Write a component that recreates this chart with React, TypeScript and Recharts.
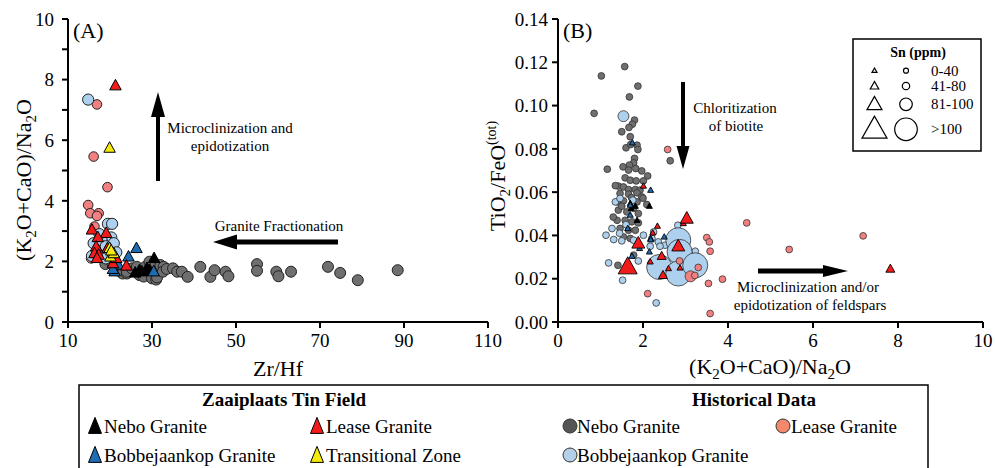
import { ScatterChart, Scatter, XAxis, YAxis } from 'recharts';

// [x, y] for panel A, [x, y, snClass] for panel B (0: 0-40, 1: 41-80, 2: 81-100, 3: >100 ppm)
type Pt = number[];

// ---- Panel A: Zr/Hf vs (K2O+CaO)/Na2O ----
const zrHfTicks = [10, 30, 50, 70, 90, 110];
const ratioTicksA = [0, 1, 2, 3, 4, 5, 6, 7, 8, 9, 10];

const histNeboA: Pt[] = [
  [18.9, 1.91], [20.5, 1.95], [22, 1.7], [23, 1.6], [24, 1.6], [24, 1.66], [25.2, 1.77], [26.4, 1.82],
  [27, 1.55], [28, 1.5], [28.4, 1.82], [29.4, 1.99], [30, 1.44], [30.4, 1.8], [31, 1.4], [31.2, 1.47],
  [32, 1.88], [32.8, 1.82], [32.6, 1.66], [33.5, 1.75], [35, 1.77], [36, 1.66], [37.1, 1.66], [38.5, 1.49],
  [41.5, 1.82], [43.9, 1.49], [44.9, 1.71], [47.5, 1.66], [48.2, 1.51], [55, 1.91], [55, 1.69], [59.6, 1.66],
  [60.1, 1.51], [63.1, 1.66], [71.9, 1.82], [74.8, 1.62], [79, 1.38], [88.5, 1.71],
];
const histLeaseA: Pt[] = [
  [16.9, 7.18], [16.1, 5.46], [19.4, 4.45], [14.8, 3.86], [15.3, 3.59], [17.3, 3.59], [16.9, 3.5],
  [16.3, 3.15], [15.5, 2.1], [16, 2.6], [17.5, 2.3],
];
const histBobA: Pt[] = [
  [14.8, 7.34], [19.5, 3.24], [20.5, 3.24], [20.3, 2.79], [20.9, 2.6], [16.1, 2.6], [15.7, 2.18],
  [18, 2.7], [19, 2.5], [21.5, 2.3], [17.5, 2.9], [19, 2.1],
];
const zaaNeboA: Pt[] = [[30.5, 2.1], [26, 1.62], [27.6, 1.66], [28.8, 1.77], [27, 1.7], [29.5, 1.7]];
const zaaLeaseA: Pt[] = [
  [21.3, 7.8], [15.7, 3.04], [19.1, 2.93], [17.1, 2.79], [16.7, 2.48], [16.3, 2.26], [17.3, 2.21],
  [19.4, 2.43], [20.7, 1.93], [23.9, 1.85], [16.9, 2.1], [21.5, 2.1],
];
const zaaBobA: Pt[] = [[26.3, 2.43], [24.4, 2.15], [21.1, 1.66], [30.4, 1.66], [22, 1.88], [20.7, 1.74]];
const transA: Pt[] = [[19.9, 5.74], [19.9, 2.43], [20.1, 2.15], [20.9, 2.26], [20.3, 2.35]];

// ---- Panel B: (K2O+CaO)/Na2O vs TiO2/FeO(tot) ----
const ratioTicksB = [0, 2, 4, 6, 8, 10];
const tiFeTicks = [0, 0.02, 0.04, 0.06, 0.08, 0.1, 0.12, 0.14];

const histNeboB: Pt[] = [
  [1.57, 0.118, 1], [1.02, 0.1137, 1], [1.88, 0.109, 1], [1.68, 0.104, 1], [0.85, 0.0964, 1], [1.8, 0.0933, 1],
  [1.75, 0.0914, 1], [1.67, 0.0899, 1], [1.5, 0.0879, 1], [1.7, 0.0856, 1], [1.6, 0.0805, 1], [1.71, 0.082, 1],
  [1.86, 0.0817, 1], [1.88, 0.0797, 1], [1.8, 0.0756, 1], [1.78, 0.0735, 1], [1.68, 0.0725, 1], [1.16, 0.0706, 1],
  [2.64, 0.0745, 1], [1.53, 0.0717, 1], [1.66, 0.0702, 1], [1.83, 0.0709, 1], [1.97, 0.0698, 1], [2.11, 0.0675, 1],
  [1.58, 0.0666, 1], [1.7, 0.0655, 1], [1.84, 0.0652, 1], [2.01, 0.0652, 1], [1.42, 0.0628, 1], [1.54, 0.0624, 1],
  [1.66, 0.0612, 1], [1.82, 0.0612, 1], [1.93, 0.0609, 1], [2.09, 0.0543, 1], [1.46, 0.0594, 1], [1.66, 0.0591, 1],
  [1.86, 0.0597, 1], [1.97, 0.0578, 1], [1.39, 0.0555, 1], [1.54, 0.056, 1], [1.86, 0.0555, 1], [1.42, 0.0517, 1],
  [1.62, 0.0509, 1], [1.78, 0.0525, 1], [1.89, 0.0501, 1], [1.39, 0.047, 1], [1.58, 0.047, 1], [1.74, 0.0463, 1],
  [1.89, 0.0458, 1], [1.46, 0.0432, 1], [1.66, 0.0424, 1], [1.82, 0.0424, 1], [1.54, 0.0393, 1], [1.7, 0.0386, 1],
  [1.41, 0.0262, 1], [1.3, 0.0485, 1], [1.5, 0.0535, 1], [2.0, 0.0572, 1], [1.35, 0.063, 1], [1.73, 0.0575, 1],
  [1.78, 0.0309, 1],
];
const histBobB: Pt[] = [
  [1.35, 0.0555, 1], [1.27, 0.0432, 1], [1.13, 0.0401, 1], [1.31, 0.0381, 1], [1.5, 0.0375, 1], [1.78, 0.0378, 1],
  [2.01, 0.0401, 1], [2.21, 0.0386, 1], [2.36, 0.037, 1], [2.52, 0.0355, 1], [2.64, 0.0363, 1], [1.19, 0.0273, 1],
  [1.89, 0.0282, 1], [1.52, 0.0193, 1], [2.31, 0.0088, 1], [2.82, 0.0447, 1], [3.23, 0.0327, 1], [2.36, 0.027, 1],
  [2.25, 0.0416, 1], [2.4, 0.035, 1], [2.17, 0.035, 1], [1.46, 0.0571, 1], [1.76, 0.0563, 1], [1.6, 0.045, 1],
  [1.45, 0.041, 1], [1.54, 0.0951, 2],
  [2.83, 0.0378, 3], [2.86, 0.0324, 3], [2.38, 0.0254, 3], [2.83, 0.0224, 3], [3.23, 0.0262, 3],
];
const histLeaseB: Pt[] = [
  [2.58, 0.0797, 1], [4.44, 0.0458, 1], [3.5, 0.039, 1], [3.56, 0.037, 1], [3.58, 0.0327, 1], [5.44, 0.0335, 1],
  [7.18, 0.0398, 1], [3.3, 0.0252, 1], [3.87, 0.0198, 1], [3.54, 0.0178, 1], [2.11, 0.0131, 1], [3.58, 0.0039, 1],
  [3.12, 0.0211, 2], [3.22, 0.0215, 1], [2.86, 0.0282, 1],
];
const zaaNeboB: Pt[] = [[1.7, 0.0548, 0], [1.82, 0.0535, 0], [2.15, 0.0535, 0], [1.86, 0.047, 0], [1.72, 0.0525, 0]];
const zaaBobB: Pt[] = [
  [1.75, 0.0828, 0], [2.18, 0.0609, 0], [1.7, 0.054, 0], [1.7, 0.0494, 0], [1.64, 0.0432, 0], [2.18, 0.0386, 0],
  [2.18, 0.038, 0], [2.5, 0.0393, 0], [2.15, 0.0324, 0], [1.74, 0.0304, 0], [1.92, 0.034, 0],
];
const zaaLeaseB: Pt[] = [
  [2.01, 0.0628, 0], [2.34, 0.0443, 0], [2.23, 0.0412, 0], [2.17, 0.0278, 0], [2.6, 0.0247, 0], [2.87, 0.025, 0],
  [2.95, 0.0455, 0], [2.44, 0.0304, 1], [2.47, 0.0216, 1], [7.82, 0.0245, 1],
  [1.89, 0.0363, 2], [2.83, 0.035, 2], [3.03, 0.0478, 2], [1.64, 0.0254, 3],
];

const snLabels = ['0-40', '41-80', '81-100', '>100'];

const COL = {
  black: '#000000',
  red: '#f21b1b',
  blue: '#1e6cb4',
  yellow: '#f5ea0c',
  gray: '#6f6f6f',
  salmon: '#f28080',
  lightBlue: '#acd0ee',
};
const FONT = '"Liberation Serif", "Times New Roman", serif';

const TRI_W = [6, 9, 13, 19];
const DOT_R = [2.6, 3.4, 5.5, 12.5];

const pts = (arr: Pt[]) => arr.map(([x, y, sn = 0]) => ({ x, y, sn }));

const Tri = ({ cx, cy, w, h, fill, sw = 1 }: any) => (
  <polygon
    points={`${cx},${cy - h * 0.6} ${cx - w / 2},${cy + h * 0.4} ${cx + w / 2},${cy + h * 0.4}`}
    fill={fill}
    stroke="#000"
    strokeWidth={sw}
  />
);

const triA = (fill: string) => (p: any) => <Tri cx={p.cx} cy={p.cy} w={11.5} h={10.5} fill={fill} />;
const dotA = (fill: string, r: number) => (p: any) => (
  <circle cx={p.cx} cy={p.cy} r={r} fill={fill} stroke="#222" strokeWidth={1} />
);
const snOf = (p: any) => (p.payload && p.payload.sn != null ? p.payload.sn : p.sn || 0);
const triB = (fill: string) => (p: any) => {
  const w = TRI_W[snOf(p)];
  return <Tri cx={p.cx} cy={p.cy} w={w} h={w * 0.9} fill={fill} sw={0.9} />;
};
const dotB = (fill: string) => (p: any) => (
  <circle cx={p.cx} cy={p.cy} r={DOT_R[snOf(p)]} fill={fill} stroke="#333" strokeWidth={0.8} />
);

const axisProps = {
  axisLine: { stroke: '#000', strokeWidth: 2 },
  tickLine: { stroke: '#000', strokeWidth: 2 },
  tickSize: 6,
  tick: { fill: '#000', fontSize: 19, fontFamily: FONT },
  interval: 0 as const,
};

// (K2O+CaO)/Na2O written with subscripts
const RatioTitle = () => (
  <>
    <tspan>(K</tspan>
    <tspan dy={5} fontSize={15}>2</tspan>
    <tspan dy={-5}>O+CaO)/Na</tspan>
    <tspan dy={5} fontSize={15}>2</tspan>
    <tspan dy={-5}>O</tspan>
  </>
);

const Arrow = ({ x1, y1, x2, y2, head = 24, half = 7, w = 4.5 }: any) => {
  const dx = x2 - x1, dy = y2 - y1;
  const len = Math.hypot(dx, dy);
  const ux = dx / len, uy = dy / len;
  const bx = x2 - ux * head, by = y2 - uy * head;
  return (
    <g>
      <line x1={x1} y1={y1} x2={bx} y2={by} stroke="#000" strokeWidth={w} />
      <polygon
        points={`${x2},${y2} ${bx - uy * half},${by + ux * half} ${bx + uy * half},${by - ux * half}`}
        fill="#000"
      />
    </g>
  );
};

const App = () => {
  return (
    <div style={{ position: 'fixed', left: 0, top: 0, width: 995, height: 468, background: '#fff', overflow: 'hidden' }}>
      <div style={{ position: 'absolute', left: 0, top: 0 }}>
        <ScatterChart width={520} height={380} margin={{ top: 19, right: 32, bottom: 28, left: 0 }}>
          <XAxis type="number" dataKey="x" domain={[10, 110]} ticks={zrHfTicks} tickMargin={6} {...axisProps} />
          <YAxis
            type="number"
            dataKey="y"
            domain={[0, 10]}
            ticks={ratioTicksA}
            width={68}
            tickMargin={8}
            tickFormatter={(v: number) => (v % 2 === 0 ? String(v) : '')}
            {...axisProps}
          />
          <Scatter data={pts(histNeboA)} shape={dotA(COL.gray, 5.5)} isAnimationActive={false} />
          <Scatter data={pts(histLeaseA)} shape={dotA(COL.salmon, 4.8)} isAnimationActive={false} />
          <Scatter data={pts(histBobA)} shape={dotA(COL.lightBlue, 5.6)} isAnimationActive={false} />
          <Scatter data={pts(zaaNeboA)} shape={triA(COL.black)} isAnimationActive={false} />
          <Scatter data={pts(zaaBobA)} shape={triA(COL.blue)} isAnimationActive={false} />
          <Scatter data={pts(zaaLeaseA)} shape={triA(COL.red)} isAnimationActive={false} />
          <Scatter data={pts(transA)} shape={triA(COL.yellow)} isAnimationActive={false} />
        </ScatterChart>
      </div>
      <div style={{ position: 'absolute', left: 490, top: 0 }}>
        <ScatterChart width={505} height={380} margin={{ top: 19, right: 12, bottom: 28, left: 0 }}>
          <XAxis type="number" dataKey="x" domain={[0, 10]} ticks={ratioTicksB} tickMargin={6} {...axisProps} />
          <YAxis
            type="number"
            dataKey="y"
            domain={[0, 0.14]}
            ticks={tiFeTicks}
            width={68}
            tickMargin={4}
            tickFormatter={(v: number) => v.toFixed(2)}
            {...axisProps}
          />
          <Scatter data={pts(histNeboB)} shape={dotB(COL.gray)} isAnimationActive={false} />
          <Scatter data={pts(histBobB)} shape={dotB(COL.lightBlue)} isAnimationActive={false} />
          <Scatter data={pts(histLeaseB)} shape={dotB(COL.salmon)} isAnimationActive={false} />
          <Scatter data={pts(zaaNeboB)} shape={triB(COL.black)} isAnimationActive={false} />
          <Scatter data={pts(zaaBobB)} shape={triB(COL.blue)} isAnimationActive={false} />
          <Scatter data={pts(zaaLeaseB)} shape={triB(COL.red)} isAnimationActive={false} />
        </ScatterChart>
      </div>

      <svg
        width={995}
        height={468}
        style={{ position: 'absolute', left: 0, top: 0, pointerEvents: 'none' }}
        fontFamily={FONT}
      >
        {/* panel letters */}
        <text x={73} y={38} fontSize={22}>(A)</text>
        <text x={563} y={38} fontSize={22}>(B)</text>

        {/* axis titles */}
        <text transform="translate(31,180) rotate(-90)" textAnchor="middle" fontSize={22}>
          <RatioTitle />
        </text>
        <text x={278} y={376} textAnchor="middle" fontSize={22}>Zr/Hf</text>
        <text transform="translate(505,176) rotate(-90)" textAnchor="middle" fontSize={22}>
          <tspan>TiO</tspan>
          <tspan dy={5} fontSize={15}>2</tspan>
          <tspan dy={-5}>/FeO</tspan>
          <tspan dy={-9} fontSize={14}>(tot)</tspan>
        </text>
        <text x={770} y={374} textAnchor="middle" fontSize={22}>
          <RatioTitle />
        </text>

        {/* panel A annotations */}
        <Arrow x1={158} y1={181} x2={158} y2={92} head={25} half={7} w={4} />
        <text x={230} y={133} textAnchor="middle" fontSize={15}>Microclinization and</text>
        <text x={230} y={151} textAnchor="middle" fontSize={15}>epidotization</text>
        <Arrow x1={338} y1={242} x2={213} y2={242} head={24} half={7.5} w={5} />
        <text x={279} y={231} textAnchor="middle" fontSize={15}>Granite Fractionation</text>

        {/* panel B annotations */}
        <Arrow x1={683} y1={82} x2={683} y2={169} head={23} half={6.5} w={4} />
        <text x={735} y={113} textAnchor="middle" fontSize={15}>Chloritization</text>
        <text x={736} y={131} textAnchor="middle" fontSize={15}>of biotite</text>
        <Arrow x1={758} y1={271} x2={848} y2={271} head={25} half={6} w={5} />
        <text x={808} y={292} textAnchor="middle" fontSize={15}>Microclinization and/or</text>
        <text x={810} y={310} textAnchor="middle" fontSize={15}>epidotization of feldspars</text>

        {/* Sn legend */}
        <rect x={853} y={39} width={128} height={112} fill="#fff" stroke="#000" strokeWidth={1.5} />
        <text x={918} y={57} textAnchor="middle" fontSize={14} fontWeight="bold">Sn (ppm)</text>
        {snLabels.map((lab, i) => {
          const cy = [70.7, 86, 104.3, 129.3][i];
          const tw = [5, 8.5, 15, 25][i];
          const r = [2.5, 3.7, 6.3, 11.3][i];
          return (
            <g key={lab}>
              <Tri cx={874.5} cy={cy} w={tw} h={tw * 0.88} fill="none" sw={1.2} />
              <circle cx={906} cy={cy} r={r} fill="none" stroke="#000" strokeWidth={1.2} />
              <text x={931} y={cy + 5} fontSize={15}>{lab}</text>
            </g>
          );
        })}

        {/* bottom legend */}
        <rect x={79} y={385} width={849} height={100} fill="none" stroke="#000" strokeWidth={1.5} />
        <text x={284} y={406} textAnchor="middle" fontSize={19} fontWeight="bold">Zaaiplaats Tin Field</text>
        <text x={754} y={406} textAnchor="middle" fontSize={19} fontWeight="bold">Historical Data</text>

        <Tri cx={95} cy={427} w={13} h={16} fill={COL.black} />
        <text x={104} y={433} fontSize={19}>Nebo Granite</text>
        <Tri cx={317} cy={427} w={13} h={16} fill={COL.red} />
        <text x={326} y={433} fontSize={19}>Lease Granite</text>
        <circle cx={570} cy={426} r={7} fill="#555" stroke="#333" strokeWidth={1} />
        <text x={577} y={433} fontSize={19}>Nebo Granite</text>
        <circle cx={783} cy={426} r={7} fill="#f4886c" stroke="#333" strokeWidth={1} />
        <text x={791} y={433} fontSize={19}>Lease Granite</text>

        <Tri cx={95} cy={456} w={13} h={16} fill={COL.blue} />
        <text x={104} y={462} fontSize={19}>Bobbejaankop Granite</text>
        <Tri cx={317} cy={456} w={13} h={16} fill={COL.yellow} />
        <text x={326} y={462} fontSize={19}>Transitional Zone</text>
        <circle cx={570} cy={455} r={7} fill="#b4cfe8" stroke="#333" strokeWidth={1} />
        <text x={577} y={462} fontSize={19}>Bobbejaankop Granite</text>
      </svg>
    </div>
  );
};

export default App;
